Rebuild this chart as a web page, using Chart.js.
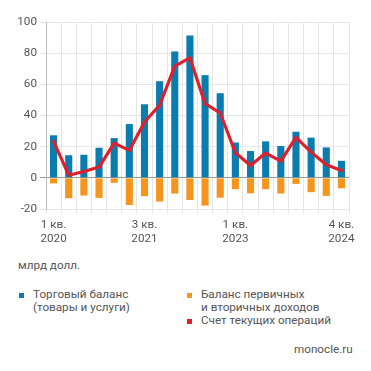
<!DOCTYPE html>
<html><head><meta charset="utf-8">
<script src="https://cdn.jsdelivr.net/npm/chart.js@4"></script>
<style>
html,body{margin:0;padding:0;background:#fff;}
body{width:371px;height:371px;position:relative;overflow:hidden;font-family:Roboto,sans-serif;color:#555;}
#wrap{position:absolute;left:0;top:0;width:371px;height:250px;}
.t{position:absolute;font-size:11.7px;line-height:13px;white-space:nowrap;}
.sq{position:absolute;width:5px;height:5px;}
</style></head><body>
<div id="wrap"><canvas id="c" width="371" height="250"></canvas></div>
<div class="t" id="unit" style="left:18px;top:259px;"></div>
<div id="legend"></div>
<div class="t" style="left:294px;top:343px;">monocle.ru</div>
<script>
const quarters = ['1 кв. 2020','2 кв. 2020','3 кв. 2020','4 кв. 2020','1 кв. 2021','2 кв. 2021','3 кв. 2021','4 кв. 2021','1 кв. 2022','2 кв. 2022','3 кв. 2022','4 кв. 2022','1 кв. 2023','2 кв. 2023','3 кв. 2023','4 кв. 2023','1 кв. 2024','2 кв. 2024','3 кв. 2024','4 кв. 2024'];
const tradeBalance = [27.3,14.5,14.8,19.3,25.5,34.5,47.2,62,81.1,91.4,65.9,54.3,22.7,17.2,23.4,20.4,29.6,25.8,19.5,10.9];
const incomeBalance = [-3.6,-13.1,-11.4,-12.9,-3.2,-17.4,-11.8,-15.2,-10.1,-14.2,-17.8,-12.7,-7.3,-9.9,-7.3,-10.1,-3.9,-9.2,-11.6,-6.7];
const currentAccount = [23.4,1.7,4.1,6.9,22.3,17.6,35.8,46.6,71.7,77,47.6,41.6,16.1,7.9,15.9,10.7,26,16.5,8.4,4.7];
const shownTicks = {0:['1 кв.','2020'],6:['3 кв.','2021'],12:['1 кв.','2023'],19:['4 кв.','2024']};
const yTicks = [-20,0,20,40,60,80,100];
const unitLabel = 'млрд долл.';
const seriesNames = ['Торговый баланс\n(товары и услуги)','Баланс первичных\nи вторичных доходов','Счет текущих операций'];
const colors = ['#0a7db0','#f7941d','#e11f2b'];

document.getElementById('unit').textContent = unitLabel;
const leg = document.getElementById('legend');
const legPos = [[19,293,33,288],[187,293,201,288],[187,319,201,314]];
seriesNames.forEach((n,i)=>{
  const s=document.createElement('div');s.className='sq';s.style.background=colors[i];
  s.style.left=legPos[i][0]+'px';s.style.top=legPos[i][1]+'px';leg.appendChild(s);
  const t=document.createElement('div');t.className='t';t.style.left=legPos[i][2]+'px';t.style.top=legPos[i][3]+'px';
  t.innerHTML=n.split('\n').join('<br>');leg.appendChild(t);
});

const font = {family:'Roboto, sans-serif', size:11.7};
new Chart(document.getElementById('c'), {
  data:{
    labels: quarters,
    datasets:[
      {type:'line', label:seriesNames[2], data:currentAccount, borderColor:colors[2], borderWidth:3.2, pointRadius:0, tension:0, borderJoinStyle:'round', borderCapStyle:'round', order:0},
      {type:'bar', label:seriesNames[0], data:tradeBalance, backgroundColor:colors[0], grouped:false, barPercentage:0.47, categoryPercentage:1, order:1},
      {type:'bar', label:seriesNames[1], data:incomeBalance, backgroundColor:colors[1], grouped:false, barPercentage:0.47, categoryPercentage:1, order:2}
    ]
  },
  options:{
    responsive:false, animation:false, devicePixelRatio:1,
    layout:{padding:{left:0,right:22,top:22,bottom:0}},
    plugins:{legend:{display:false},tooltip:{enabled:false}},
    scales:{
      x:{
        grid:{color:'#e6e6e6', offset:true, tickLength:5, drawTicks:true},
        border:{color:'#e6e6e6'},
        ticks:{autoSkip:false, maxRotation:0, color:'#555', font:font, padding:4,
          callback:(v,i)=>shownTicks[i]||''},
        afterFit:(s)=>{s.height=41;}
      },
      y:{
        min:-20, max:100,
        afterBuildTicks:(s)=>{s.ticks=yTicks.map(v=>({value:v}));},
        grid:{color:(ctx)=>ctx.tick && ctx.tick.value===0 ? '#9a9a9a' : '#e6e6e6', tickLength:6},
        border:{color:'#bdbdbd'},
        ticks:{color:'#555', font:font, padding:3},
        afterFit:(s)=>{s.width=46;}
      }
    }
  }
});
</script>
</body></html>
